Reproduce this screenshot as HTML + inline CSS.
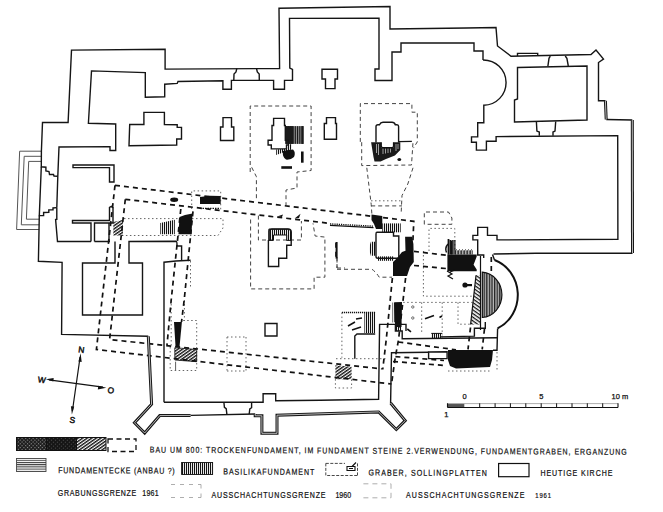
<!DOCTYPE html>
<html><head><meta charset="utf-8">
<style>
html,body{margin:0;padding:0;background:#fff;}
body{width:663px;height:512px;overflow:hidden;}
svg{display:block;}
text{font-family:"Liberation Sans",sans-serif;fill:#111;}
</style></head>
<body>
<svg width="663" height="512" viewBox="0 0 663 512">
<defs>
<pattern id="vh" width="2" height="4" patternUnits="userSpaceOnUse"><rect width="1.1" height="4" fill="#111"/></pattern>
<pattern id="hh" width="4" height="2.2" patternUnits="userSpaceOnUse"><rect width="4" height="1" fill="#333"/></pattern>
<pattern id="dh" width="3" height="2.6" patternUnits="userSpaceOnUse" patternTransform="rotate(-35)"><rect width="3" height="1.4" fill="#111"/></pattern>
<pattern id="dh2" width="3" height="3" patternUnits="userSpaceOnUse" patternTransform="rotate(35)"><rect width="3" height="1.3" fill="#111"/></pattern>
<pattern id="ah" width="2.6" height="5" patternUnits="userSpaceOnUse"><rect width="2.6" height="5" fill="#bbb"/><rect width="1.3" height="5" fill="#222"/></pattern>
<pattern id="vhd" width="1.8" height="4" patternUnits="userSpaceOnUse"><rect width="1.3" height="4" fill="#111"/></pattern>
<pattern id="xh" width="2.6" height="2.6" patternUnits="userSpaceOnUse" patternTransform="rotate(45)"><rect width="2.6" height="2.6" fill="#1c1c1c"/><rect width="1.1" height="1.1" fill="#999"/></pattern>
<pattern id="xh2" width="2.8" height="2.8" patternUnits="userSpaceOnUse" patternTransform="rotate(45)"><rect width="2.8" height="2.8" fill="#151515"/><rect width="1" height="1" fill="#555"/></pattern>
</defs>
<rect width="663" height="512" fill="#fff"/>
<g fill="none" stroke="#444" stroke-width="1" stroke-dasharray="4,3">
<path d="M250.2,172 L250.2,106 L311.1,106 L311.1,170.5 L297,172 L297,188 L286,190 L286,205"/>
<path d="M251.7,167.3 L256.4,176.7 L256.4,199.4"/>
<path d="M250.6,219.5 L250.6,288.9 L314.1,288.9 L314.1,277.2 L324.9,277.2 L324.9,237.1 L315.1,236 L313,223.4"/>
<path d="M258.4,215.6 L258.4,240 L301.4,240 L301.4,221"/>
<path d="M337,258.6 L337,268 M337,268 L345,268"/>
<path d="M360.3,141.9 L360.3,103.6 L411.9,103.6 L411.9,112.2 L417.3,112.2 L417.3,141.9 L413.4,148.1"/>
<path d="M361.7,142.2 L361.7,165.6 L411.5,165 L413,142.2 M366.8,167.8 L371.2,204.4 L372,216 M413,167.8 L407.8,184 L402,195.6 L401.2,212 M371.2,205.9 L402,205.9"/>
<path d="M424.3,224.3 L424.3,212 L448.5,212 L451.9,218 L451.9,224.3 Z"/>
<path d="M337,269.3 L372,269.3 Q376,272 379.2,277.2 L392,277.2"/>
<path d="M337,257 L337,269.3"/>
</g>
<g fill="none" stroke="#666" stroke-width="1" stroke-dasharray="1.5,2.5">
<path d="M124,218.6 L223,218.6 L223,228 L218,235.5 L122,235.5"/>
<path d="M171.2,300 L171.2,346 M184.4,300 L184.4,321 M190.5,261 L190.5,289"/>
<path d="M170.2,347 L170.2,370.5 L196.7,370.5 L196.7,320.5 L182,320.5"/>
<path d="M227,337 L227,371 M246,337 L246,371 M227,337 L246,337 M227,371 L246,371"/>
<path d="M448,371 L492,371 M497,352 L497,372"/>
<path d="M341.9,312.6 L341.9,357.7 M335.4,379.2 L335.4,388 L351.6,388 L351.6,379.2 M336,358.7 L387,358.7"/>
<path d="M423.4,251 L423.4,296.2 L473,296.2 M403.2,302.4 L473,302.4 M421.7,302.4 L421.7,332.5 M442.2,302.4 L442.2,332.5 M458,302.4 L458,324.2 L471.6,324.2"/>
<path d="M429,251 L429,228.4 L454.8,228.4 L454.8,251 M191.7,209 L191.7,190.9 L220.7,190.9 L220.7,210 M371,200.8 L402,200.8"/>
</g>
<polygon points="179.5,217 185,215 192.5,213.5 191.5,234.3 178.4,234.3" fill="#111"/>
<polygon points="160.3,223 174.8,219.8 174.8,234.3 160.3,234.3" fill="url(#vh)"/>
<polygon points="200,197 210,195.7 220.7,196 220.7,204.1 200,204.1" fill="#111"/>
<ellipse cx="174.2" cy="199.8" rx="4" ry="2.2" fill="#111"/>
<path d="M200,208.3 L220,208.3" stroke="#111" stroke-width="1.2" stroke-dasharray="1.5,1"/>
<polygon points="113.3,222 123,219.8 123,235.5 113.3,235.5" fill="url(#dh)"/>
<polygon points="174.8,347.7 196.7,349.5 196.7,361.7 174.8,360" fill="url(#dh)" stroke="#111" stroke-width="0.8"/>
<polygon points="174,321.9 181.9,321.9 179.5,346.9 175.6,346.9" fill="#111"/>
<path d="M175.6,361.7 L175.6,370" stroke="#333" stroke-width="0.8"/>
<rect x="285.3" y="126.1" width="18.3" height="17.8" fill="url(#vhd)"/>
<rect x="285.3" y="126.1" width="8" height="17.8" fill="#1a1a1a"/>
<rect x="301.5" y="126.1" width="2.1" height="17.8" fill="#1a1a1a"/>
<polygon points="276.2,149.5 286.3,148.5 288.4,144.4 292,143.9 291.4,149.5 276.2,155" fill="url(#vh)"/>
<path d="M283,151 Q282,157 286,159.6 Q291,160 294,157 Q296,152 293,149.5 L288,150 Z" fill="#111"/>
<rect x="281.3" y="166.2" width="10.7" height="2.6" fill="#111"/>
<rect x="301" y="151.5" width="2.6" height="11.2" fill="#111"/>
<polygon points="371.1,142.3 381.3,142.3 381.3,147.6 393.5,147.6 393.5,142.3 400.3,142.3 400.3,150 394.9,155.4 386,159 380.6,161.5 374.5,161.5 373.5,157" fill="#1a1a1a"/>
<path d="M376.5,144 L376.5,153 M378.5,144 L378.5,155 M383,148.5 L383,154 M385.5,148.5 L385.5,153.5 M388,148.5 L388,153 M390.5,148.5 L390.5,152.5 M396,144 L396,151 M398,144 L398,149" stroke="#ddd" stroke-width="0.7"/>
<path d="M381.3,142.3 L381.3,146 Q381.3,147.6 383,147.6 L392,147.6 Q393.5,147.6 393.5,146 L393.5,142.3" fill="#fff" stroke="#111" stroke-width="1.2"/>
<ellipse cx="399.3" cy="159.4" rx="1.9" ry="1.5" fill="#111"/>
<path d="M269,240.4 L269,231 Q269,229.2 272,229.2 L288,229.2 Q291,229.2 291,232 L291,240.4 L286.7,240.4 L286.7,235 L273.5,235 L273.5,240.4 Z" fill="url(#vh)" stroke="#111" stroke-width="1"/>
<polygon points="371.5,214.5 382.3,216 382.3,229.1 376,229.1 374,224 371.5,220" fill="#111"/>
<rect x="382.3" y="223.4" width="18.4" height="8.9" fill="url(#vh)"/>
<path d="M330,225.3 L373.5,227.6" stroke="#111" stroke-width="1.3"/><path d="M330,223.9 L373.5,226.2" stroke="#111" stroke-width="1.4" stroke-dasharray="1.2,1"/>
<path d="M370.9,241.8 Q368,249 370.9,255.8 L376,255.8 L376,241.8 Z" fill="url(#vh)"/>
<rect x="378" y="256.4" width="16" height="4.4" fill="url(#vh)"/>
<polygon points="405.1,236.7 412.1,236.7 413.4,244 413.8,262 410,267 407,276 393,276 393,262 396.9,258.3 402,252 405.5,250.7" fill="#111"/>
<polygon points="447.4,254.5 476.7,254.5 476.7,256.5 473.6,264.7 476.7,269.5 476.7,271.3 447.4,271.3" fill="#111"/>
<rect x="448" y="240" width="7.6" height="14.5" fill="url(#vhd)"/>
<path d="M455.6,254.5 L455.6,250.5 Q456.4,249 457.2,250.5 L457.2,254.5 M458.6,254.5 L458.6,250.5 Q459.4,249 460.2,250.5 L460.2,254.5 M461.6,254.5 L461.6,250.5 Q462.4,249 463.2,250.5 L463.2,254.5 M464.6,254.5 L464.6,250.5 Q465.4,249 466.2,250.5 L466.2,254.5 M467.6,254.5 L467.6,250.5 Q468.4,249 469.2,250.5 L469.2,254.5 M470.6,254.5 L470.6,250.5 Q471.4,249 472.2,250.5 L472.2,254.5" fill="none" stroke="#111" stroke-width="0.9"/>
<path d="M448,244 Q444.5,248 446.5,252.5" fill="none" stroke="#111" stroke-width="1.5"/>
<rect x="447.6" y="239" width="1.8" height="15.5" fill="#111"/><rect x="450.8" y="241" width="1.4" height="13.5" fill="#111"/>
<path d="M482.3,272.2 A21,22.7 0 0 1 482.3,317.5 Z" fill="url(#ah)" stroke="#111" stroke-width="1.2"/>
<polygon points="476,275.3 480,275.3 480,324.5 470.6,324.5" fill="url(#dh2)"/>
<path d="M476,275.3 L470.6,324.5 M480.5,256 L480.5,330" stroke="#111" stroke-width="1.2"/>
<circle cx="465" cy="285" r="2.6" fill="#111"/><rect x="465" y="284" width="7" height="2.2" fill="#111"/>
<polygon points="448,350 493,350 492,360 490,367 456,368.5 450,366 448,360" fill="#111"/>
<polygon points="394,302.5 402,302 401,322 394.5,322" fill="#111"/>
<rect x="392.5" y="302.5" width="2" height="20" fill="url(#vh)"/>
<rect x="395.4" y="324.4" width="6" height="6.6" fill="url(#vh)"/>
<rect x="364.4" y="312.6" width="10.8" height="20.4" fill="url(#vh)"/>
<path d="M341.9,312.6 L375.2,312.6" stroke="#111" stroke-width="1.5" stroke-dasharray="1.2,0.8"/>
<polygon points="335.4,365.2 351.6,366.8 351.6,379.2 335.4,379.2" fill="url(#dh)"/>
<rect x="431.3" y="333.2" width="10.9" height="4.8" fill="url(#vh)"/><path d="M431.3,333.4 L442.2,333.4" stroke="#111" stroke-width="1"/>
<circle cx="412.8" cy="307" r="1.2" fill="none" stroke="#333" stroke-width="0.7"/><circle cx="412.8" cy="318" r="1.2" fill="none" stroke="#333" stroke-width="0.7"/>
<path d="M425,318.8 L434,315.4 M439.5,317.5 L442,316 M407.3,329 L411,331.8" stroke="#111" stroke-width="1.6"/>
<polygon points="395,302.4 401.8,302.4 401.5,327 395,327" fill="#111"/>
<polygon points="277,216.6 283,214.6 282,217" fill="#111"/><polygon points="294.6,218.6 300.5,213.7 299,218" fill="#111"/><rect x="335.6" y="242" width="2" height="16.6" fill="#111"/>
<path d="M447,271 L452,274 L448,276 L453,279 M450,272 L455,270" stroke="#111" stroke-width="1.2" fill="none"/>
<path d="M348,326 L355,322 M352,330 L361,327 M356,319 L362,318" stroke="#111" stroke-width="1.5"/>
<path d="M494.5,260 A35,37 0 0 1 497.6,328.4" fill="none" stroke="#111" stroke-width="2"/>
<g fill="none" stroke="#111" stroke-width="1.7" stroke-dasharray="5,4">
<path d="M115,185.3 L413.8,221.3 L412.8,243"/>
<path d="M115,185.3 L96.4,349.5 L391.5,384"/>
<path d="M125.3,199.3 L330,223.4"/>
<path d="M125.3,199.3 L109.6,339.5 L381.7,368.8"/>
<path d="M180.8,209 L171.2,300 L167,345"/>
<path d="M193,211.4 L184.2,300 L181.5,322"/>
<path d="M392.4,278 L386.2,340 L382.7,369.5"/>
<path d="M405.6,278 L398.5,340 L395.4,356.6 L391.5,384"/>
<path d="M414,251.4 L446.9,255.3"/>
<path d="M414,265.5 L446.9,268.6"/>
<path d="M398.3,342 L456,349.8"/>
<path d="M395.4,356.6 L444,360.5"/>
<path d="M393,361.5 L444,365.4"/>
<path d="M470.5,327.5 L468,349.4"/>
<path d="M484.5,328.8 L482.2,349.4"/>
<path d="M491.3,257 L491.3,275"/>
<path d="M336,242.7 L336,257.2"/>
</g>
<g fill="none" stroke="#555" stroke-width="1"><path d="M41.3,151.2 L19.65,151.2 L16.6,229.5 L39.2,229.5 M41.3,156.3 L24.2,156.3 L21.3,224.8 L39.2,224.8 M41.3,161.4 L28.7,161.4 L26.4,219.2 L39.2,219.2"/></g>
<g fill="none" stroke="#151515" stroke-width="1.4" stroke-linejoin="miter">
<path d="M41.4,151 L42.5,122.5 L68.1,122.5 L71.5,50.1 L165.1,49.2 L165.1,69.1 L279.6,68.5 L279,8.2 L390,6.5 L390,29 L466,28 L496,27.5 L497.5,46 L511,56.2 L591,54.5 L596,50 L603.5,59 L598.5,62.5 L598.5,100.8 L605.4,100.8 M606.2,119.5 L632.3,120 M632.5,253.2 L536,253.2"/>
<path d="M536,253.2 L493.5,254"/>
<path d="M115.7,146 L115.7,124 L88.4,123.3 L91.5,70.9 L145.3,72.6 L145.3,97.2 L164.7,96.7 L164.7,84.2 L177.2,83.4 L178,81.5 L222.9,80.8 L222.9,89.2 L231.4,89.2 L231.4,80.4 L273.6,80.4 L273.6,89.2 L284.5,89.2 L284.5,80.4 L292.5,80.2 L292.5,69.5 L289.8,68 L289.5,18.4 L379,18.2 L379,69 L375,69 L375,80.5 L392,80.5 L392,52 L401,52 L401,43 L474,43 L474,51 L483,51 L483,60"/>
<path d="M236.8,68.5 L236,72 L234,74 L233.8,80.2 M256.5,68.5 L257.3,72 L259.2,74 L259.3,80.2"/>
<path d="M322,69.3 L337.5,69.3 L337.5,79 L335,79 L335,88.6 L325.5,88.6 L325.5,79 L322,79 Z"/>
<path d="M517.5,67.5 L587,66 L587,120 L514.5,122 L514.5,100 L517.5,99 Z"/>
<path d="M550.3,56.2 L549,58.3 L547.9,66.2 M565.2,56 L566.9,58.3 L568.3,66"/>
<path d="M517.5,56 L517.5,53.4 L537.7,53.4 L537.7,56"/>
<path d="M536.4,121.8 L536.9,131.1 L539.3,132 L539.3,135.8 M555.7,121.5 L555,131.1 L553,132 L553,135.8"/>
<path d="M483,60 A22.5,22.5 0 0 1 483.8,105.3 L483.8,122.8 L477.7,122.8 L477.7,136.9 L471.5,136.9 L471.5,142.2 L476.4,142.2 L476.4,150.1 L486.4,150.1 L486.4,141.3 L496.1,141.3 L496.1,136.6 L617.7,135.6 L617.9,239.3 L497,239.9 L497,235.4 L487.5,235.4 L487.5,227.4 L477.7,227.4 L477.7,235.4 L472.9,235.4 L472.9,239.9 L477.7,239.9 L477.7,255 L483.7,255 L483.7,258"/>
<path d="M129,145.7 L129.7,124.5 L143.9,124.5 L143.9,112.4 L164.4,112.4 L164.4,124.5 L177.2,124.8 L177.2,127.4 L181.5,127.4 L181.5,139 L176.7,139 L176.7,145 Z"/>
<path d="M115.7,146 L115.7,150.5 L110,150.5 L110,146.6 L59,147 L57.8,176.3 L56.8,207.6"/>
<path d="M56.8,207.6 L56.8,219.3 L55.6,219.5 L57.5,241.5 L91,241.5 M94.5,241.5 L110,241.5"/>
<path d="M41.4,151 L41.3,166.8 L45.9,167.2 L45.9,171 L49,171.5 L49.5,174.5 L53.5,174.5 L54,176 L57.8,176.3"/>
<path d="M41.3,166.8 L39.3,215.6 L43.6,215.6 L43.6,212.5 L48.8,212.3 L48.8,209.9 L53,209.9 L53,208 L56.8,207.6"/>
<path d="M39.3,215.6 L38.4,261.3 L62.1,262.4 L61.6,334.4 L148.3,336.3"/>
<path d="M73,164.9 L114,165 L114,182 L109.5,182 L109.5,167.6 L73,167.6 Z"/>
<path d="M91,241.5 L91,223 L72.5,223 L72.5,220.5 L109.5,220.5 L109.5,207.5 L111.5,206.4 L113,207.5 L113,223 L94.5,223 L94.5,241.5 M109,223 L109,241.5"/>
<path d="M115,241.5 L115,263 L82.5,263 L82.5,315 L142.5,315 L142.5,263 L129,263 L129,241.5 L176.3,241.3 Q177,241.5 177,245 L177.5,246 L181.6,246 L181.6,260.5"/>
<path d="M164,402.3 L164,262.2 L176,261 L190.6,260.3"/>
<path d="M164,402.3 L263.1,402.3 L263.1,393.7 L275.7,393.7 L275.7,400.7 L320,400.3 L378.6,399.2 L379.6,324.4 L395.4,324.4 L395.4,331 L402.2,331 L402.2,338.8 L497,337.8"/>
<path d="M223.9,402.3 L224.4,407.3 L226.2,408.6 L226.9,414.3 M251.6,402.3 L251.6,407.7 L249.8,409 L249.2,414"/>
<path d="M190.6,415.4 L255.2,414"/>
<path d="M390.6,403 L391.5,352.7 L428.6,352.3"/>
<path d="M492.5,254.5 L494.5,260 M497.6,328.4 L497,350.2 L493,350.2"/>
<path d="M440,336.9 L474.4,336.1 L474.4,328.3 L485.3,328.3 L485.3,322"/>
<path d="M269,240 L269,229.5 Q269,229 272,229 L288,229 Q291.2,229 291.2,232 L291.2,245.3 L286.7,245.3 L286.7,258.2 L278.7,258.2 L278.7,266.5 L268.4,266.5 L268.4,240"/>
<path d="M223,117.6 L231.5,117.6 L231.5,127 L233.8,127 L233.8,140.5 L220.5,140.5 L220.5,127 L223,127 Z"/>
<path d="M326.5,117.6 L335.5,117.6 L335.5,123.5 L336.5,123.5 L336.5,139.3 L324.3,139.3 L324.3,123.5 L326.5,123.5 Z"/>
<path d="M273.6,118.4 L284.5,118.4 L284.5,125.5 L285.3,125.5 L285.3,140.3 L288.4,140.3 L288.4,145 L286.5,145 L286.5,148.9 L271.3,148.9 L271.3,145 L268.1,145 L268.1,140.3 L272,140.3 L272,125.5 L273.6,125.5 Z"/>
<path d="M376,142.5 L376,126.5 Q376,124.7 378,124.7 L379.5,124.7 Q380.5,122.3 383,122.3 L392,122.3 Q394.5,122.3 395.3,124.7 L397,124.7 Q398.6,124.7 398.6,126.5 L398.6,142.5"/>
<path d="M398.6,141.6 L411.9,141.4"/>
<path d="M377,232.3 L393.5,232.3 L393.5,236 L398.8,236 L398.8,257 Q398.8,258.3 397,258.3 L378,258.3 Q376,258.3 376,256.5 L376,234 Q376,232.3 377,232.3 Z"/>
<path d="M375.2,334 L357,334 L354.8,336 L354.8,358.7"/>
<path d="M265,323.5 L277,323.5 L277,336 L265,336 Z"/>
<path d="M428.6,352 L447.1,351.8 L447.1,358.6 L428.6,358.6 Z"/>
<path d="M395.4,324.4 L406,324.4 L406,331"/>
</g>
<g fill="none" stroke="#161616" stroke-width="3" stroke-linejoin="miter"><path d="M148.3,336.3 L151.6,404.2 L134.5,422.8 L144.7,433 L159.8,415.6 L190.6,415.4"/><path d="M255.2,414 L255.2,415.8 L261.9,415.8 L261.9,433.3 L277,433.3 L277,415.2 L378.6,411.9 L396.3,429.5 L405.2,420.6 L390.6,403"/><path d="M605.4,100.8 L606.2,119.5"/><path d="M632.3,120 L632.5,253"/></g><g fill="none" stroke="#ccc" stroke-width="0.9"><path d="M148.3,336.3 L151.6,404.2 L134.5,422.8 L144.7,433 L159.8,415.6 L190.6,415.4"/><path d="M255.2,414 L255.2,415.8 L261.9,415.8 L261.9,433.3 L277,433.3 L277,415.2 L378.6,411.9 L396.3,429.5 L405.2,420.6 L390.6,403"/><path d="M605.4,100.8 L606.2,119.5"/><path d="M632.3,120 L632.5,253"/></g>
<g>
<rect x="16.5" y="437.5" width="30" height="13" fill="url(#xh)" stroke="#111"/>
<rect x="46.5" y="437.5" width="30" height="13" fill="url(#xh2)" stroke="#111"/>
<rect x="76.5" y="437.5" width="29.5" height="13" fill="url(#dh)" stroke="#111"/>
<rect x="108" y="439" width="28" height="12.5" fill="none" stroke="#111" stroke-width="1.3" stroke-dasharray="5,3.5"/>
</g>
<g stroke="#111" stroke-width="0.22">
<text font-size="8.5" transform="translate(149.8 452.6) rotate(0.27) scale(0.82 1)" x="0" y="0" textLength="581.7" lengthAdjust="spacing">BAU UM 800: TROCKENFUNDAMENT, IM FUNDAMENT STEINE 2.VERWENDUNG, FUNDAMENTGRABEN, ERGANZUNG</text>
<text font-size="8.6" transform="translate(58.2 473.3) rotate(0.2) scale(0.82 1)" x="0" y="0" textLength="142.1" lengthAdjust="spacing">FUNDAMENTECKE (ANBAU ?)</text>
<text font-size="8.6" transform="translate(223.3 474.6) rotate(0.2) scale(0.82 1)" x="0" y="0" textLength="111.0" lengthAdjust="spacing">BASILIKAFUNDAMENT</text>
<text font-size="8.6" transform="translate(368.5 475.6) rotate(0.2) scale(0.82 1)" x="0" y="0" textLength="144.3" lengthAdjust="spacing">GRABER, SOLLINGPLATTEN</text>
<text font-size="8.6" transform="translate(540.4 476.4) scale(0.82 1)" x="0" y="0" textLength="87.8" lengthAdjust="spacing">HEUTIGE  KIRCHE</text>
<text font-size="8.6" transform="translate(57.8 495.6) scale(0.82 1)" x="0" y="0" textLength="95.7" lengthAdjust="spacing">GRABUNGSGRENZE</text>
<text font-size="8.6" transform="translate(142.2 495.8) scale(0.82 1)" x="0" y="0" textLength="20.2" lengthAdjust="spacing">1961</text>
<text font-size="8.6" transform="translate(211.5 497.6) scale(0.82 1)" x="0" y="0" textLength="139.0" lengthAdjust="spacing">AUSSCHACHTUNGSGRENZE</text>
<text font-size="8.6" transform="translate(335.4 497.6) scale(0.82 1)" x="0" y="0" textLength="19.3" lengthAdjust="spacing">1960</text>
<text font-size="8.6" transform="translate(406 497.9) scale(0.82 1)" x="0" y="0" textLength="144.4" lengthAdjust="spacing">AUSSCHACHTUNGSGRENZE</text>
<text font-size="7.2" transform="translate(535.3 497.9) scale(0.82 1)" x="0" y="0" textLength="19.1" lengthAdjust="spacing">1961</text>
</g>
<g>
<rect x="16.5" y="458.5" width="29.5" height="13" fill="url(#hh)" stroke="#444" stroke-width="0.9"/>
<rect x="181.6" y="462.5" width="31" height="12" fill="url(#vh)" stroke="#111" stroke-width="0.9"/>
<path d="M325.8,463.4 L345,463.4 M325.8,463.4 L325.8,475.5 L357.5,475.5 M357.5,463.4 L357.5,475.5" fill="none" stroke="#333" stroke-width="0.9" stroke-dasharray="3,1.5"/>
<path d="M347,466.5 L355,466.5 L355,470.5 L347,470.5 Z M349,468.5 L353,468.5 M352,466.5 L356,462.5" fill="none" stroke="#111" stroke-width="1.1"/>
<rect x="498.6" y="463.5" width="30.4" height="13.2" fill="none" stroke="#111" stroke-width="1.2"/>
<path d="M171,484.5 L201,484.5 M171,497.5 L201,497.5 M201,484.5 L201,497.5" fill="none" stroke="#999" stroke-width="0.8" stroke-dasharray="4,5"/>
<path d="M363.4,483.8 L391,483.8 M363.4,497.8 L391,497.8 M391,483.8 L391,497.8" fill="none" stroke="#999" stroke-width="0.8" stroke-dasharray="5,4"/>
</g>
<!-- compass -->
<g stroke="#111" stroke-width="1.2" fill="none">
<line x1="80.1" y1="357" x2="72.4" y2="411"/>
<line x1="49" y1="379.8" x2="103" y2="387.2"/>
</g>
<g fill="#111">
<polygon points="80.6,353.2 78.4,361.5 81.7,361.9"/>
<polygon points="71.9,414.5 70.9,406.2 74.2,406.6"/>
<polygon points="45.8,379.3 53.7,377.9 53.3,381.5"/>
<polygon points="106.3,387.8 98.3,385.8 97.8,389.4"/>
</g>
<g font-size="8.4" fill="#111" stroke="#111" stroke-width="0.45">
<text transform="translate(77.9 352.3) rotate(7.5)">N</text>
<text transform="translate(37.6 382.3) rotate(7.5)">W</text>
<text transform="translate(107.2 392.7) rotate(7.5)">O</text>
<text transform="translate(69.2 422.6) rotate(7.5)">S</text>
</g>
<!-- scale bar -->
<rect x="447.5" y="403.8" width="16.8" height="3.5" fill="#555"/>
<g stroke="#111" fill="none">
<path d="M447.5,403.6 L618,403.6" stroke="#999" stroke-width="0.8"/>
<path d="M447.5,407.5 L618,407.5 M447.5,403.3 L447.5,407.5 M618,403.3 L618,407.5" stroke-width="1.1"/>
<path d="M479.7,403.3 L479.7,407.5 M495.1,403.3 L495.1,407.5 M510.4,403.3 L510.4,407.5 M525.8,403.3 L525.8,407.5 M541.2,403.3 L541.2,407.5 M556.6,403.3 L556.6,407.5 M572.0,403.3 L572.0,407.5 M587.3,403.3 L587.3,407.5 M602.7,403.3 L602.7,407.5" stroke-width="1"/>
</g>
<g font-size="7.5" fill="#111" stroke="#111" stroke-width="0.25">
<text x="462.6" y="398.6">0</text>
<text x="539.2" y="399">5</text>
<text x="611.5" y="399">10 m</text>
<text x="444.2" y="417.4">1</text>
</g>

</svg>
</body></html>
